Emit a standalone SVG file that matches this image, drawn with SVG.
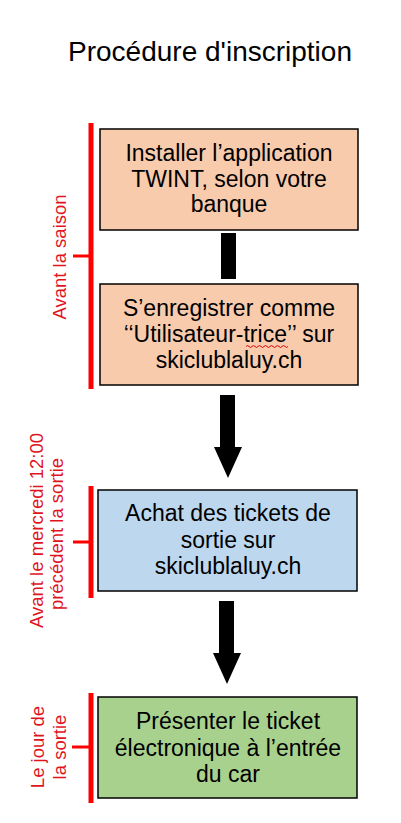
<svg xmlns="http://www.w3.org/2000/svg" width="401" height="823" viewBox="0 0 401 823">
<style>
.box{stroke:#000;stroke-width:1.5}
.t{font-family:"Liberation Sans",Arial,sans-serif;font-size:23px;fill:#000;text-anchor:middle}
.title{font-family:"Liberation Sans",Arial,sans-serif;font-size:28px;fill:#000;text-anchor:middle}
.r{font-family:"Liberation Sans",Arial,sans-serif;font-size:18.5px;fill:#E0141E;text-anchor:middle}
.br{stroke:#FF0000;stroke-width:5;fill:none}
.bt{stroke:#FF0000;stroke-width:3;fill:none}
</style>
<rect width="401" height="823" fill="#fff"/>
<text class="title" x="210" y="60.5">Procédure d'inscription</text>

<g id="connectors">
  <rect x="221" y="233" width="15" height="46" fill="#000"/>
  <polygon points="220,395 235,395 235,447 242,447 228,478 214,447 220,447" fill="#000"/>
  <polygon points="219,601 234,601 234,653 241,653 227,684 213,653 219,653" fill="#000"/>
</g>

<g id="node1">
  <rect class="box" x="100" y="129" width="258" height="101" fill="#F8CBAD"/>
  <text class="t" x="229" y="160.7">Installer l’application</text>
  <text class="t" x="229" y="186.5">TWINT, selon votre</text>
  <text class="t" x="229" y="211.7">banque</text>
</g>
<g id="node2">
  <rect class="box" x="100" y="284" width="258" height="101" fill="#F8CBAD"/>
  <text class="t" x="229" y="315.5">S’enregistrer comme</text>
  <text class="t" x="229" y="342">‘‘Utilisateur-trice’’ sur</text>
  <text class="t" x="229" y="368">skiclublaluy.ch</text>
  <path d="M246,346.5 q1.5,-2 3,0 t3,0 t3,0 t3,0 t3,0 t3,0 t3,0 t3,0 t3,0 t3,0 t3,0 t3,0 t3,0 t3,0" stroke="#E00000" stroke-width="1" fill="none"/>
</g>
<g id="node3">
  <rect class="box" x="98" y="490" width="259" height="101" fill="#BDD7EE"/>
  <text class="t" x="228" y="521">Achat des tickets de</text>
  <text class="t" x="228" y="547.5">sortie sur</text>
  <text class="t" x="228" y="574">skiclublaluy.ch</text>
</g>
<g id="node4">
  <rect class="box" x="98" y="697" width="259" height="101" fill="#A9D18E"/>
  <text class="t" x="228" y="729">Présenter le ticket</text>
  <text class="t" x="228" y="756">électronique à l’entrée</text>
  <text class="t" x="228" y="782">du car</text>
</g>

<g id="phase1">
  <line class="br" x1="91" y1="123" x2="91" y2="389"/>
  <line class="bt" x1="73" y1="256" x2="91" y2="256"/>
  <text class="r" transform="translate(66,257) rotate(-90)">Avant la saison</text>
</g>
<g id="phase2">
  <line class="br" x1="91" y1="486" x2="91" y2="598"/>
  <line class="bt" x1="73" y1="542" x2="91" y2="542"/>
  <text class="r" transform="translate(43,530.5) rotate(-90)">Avant le mercredi 12:00</text>
  <text class="r" transform="translate(62.5,534) rotate(-90)">précédent la sortie</text>
</g>
<g id="phase3">
  <line class="br" x1="91" y1="693" x2="91" y2="803"/>
  <line class="bt" x1="72" y1="747" x2="91" y2="747"/>
  <text class="r" transform="translate(44,747) rotate(-90)">Le jour de</text>
  <text class="r" transform="translate(66,747) rotate(-90)">la sortie</text>
</g>
</svg>
